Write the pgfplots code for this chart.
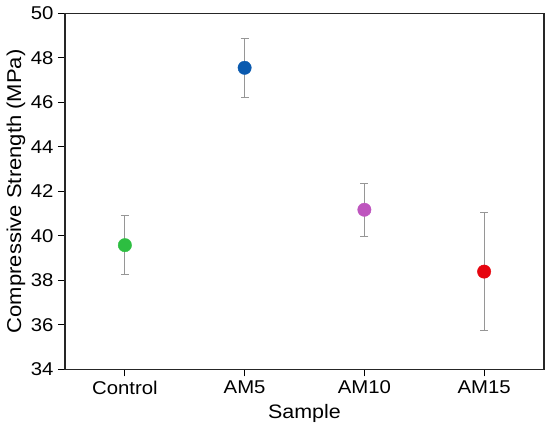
\documentclass[border=0pt]{standalone}
\usepackage{pgfplots}
\pgfplotsset{compat=1.18}
\usepackage{fontspec}
\setmainfont{Liberation Sans}[FakeStretch=1.1]
\definecolor{cgreen}{RGB}{45,190,65}
\definecolor{cblue}{RGB}{10,90,175}
\definecolor{cmag}{RGB}{190,85,190}
\definecolor{cred}{RGB}{230,5,15}
\definecolor{errgray}{RGB}{150,150,150}
\begin{document}
\begin{tikzpicture}
\useasboundingbox (-65pt,-58pt) rectangle (485pt,369.3pt);
\begin{axis}[
  scale only axis,
  width=479pt, height=356pt,
  xmin=-0.5, xmax=3.5,
  ymin=34, ymax=50,
  xtick={0,1,2,3},
  xticklabels={Control,AM5,AM10,AM15},
  ytick={34,36,...,50},
  tick align=outside,
  tick pos=left,
  major tick length=7pt,
  every tick/.style={black, line width=0.9pt},
  axis line style={line width=1.1pt, black!85},
  tick label style={font=\fontsize{18.5}{21}\selectfont},
  /pgf/number format/assume math mode=true,
  xlabel={Sample},
  ylabel={Compressive Strength (MPa)},
  xlabel style={font=\fontsize{19.5}{22}\selectfont, at={(axis description cs:0.5,-0.124)}, anchor=center},
  ylabel style={font=\fontsize{20}{22}\selectfont, at={(axis description cs:-0.1023,0.5)}, anchor=center},
  yticklabel style={xshift=-1pt},
  xticklabel style={yshift=-1pt},
  clip=false,
]
\addplot[cgreen, only marks, mark=*, mark size=6.7pt,
  error bars/.cd, y dir=both, y explicit,
  error bar style={errgray, line width=0.8pt},
  error mark options={errgray, rotate=90, mark size=4pt, line width=0.8pt}]
  coordinates {(0,39.58) +- (0,1.32)};
\addplot[cblue, only marks, mark=*, mark size=6.7pt,
  error bars/.cd, y dir=both, y explicit,
  error bar style={errgray, line width=0.8pt},
  error mark options={errgray, rotate=90, mark size=4pt, line width=0.8pt}]
  coordinates {(1,47.55) +- (0,1.34)};
\addplot[cmag, only marks, mark=*, mark size=6.7pt,
  error bars/.cd, y dir=both, y explicit,
  error bar style={errgray, line width=0.8pt},
  error mark options={errgray, rotate=90, mark size=4pt, line width=0.8pt}]
  coordinates {(2,41.17) +- (0,1.2)};
\addplot[cred, only marks, mark=*, mark size=6.7pt,
  error bars/.cd, y dir=both, y explicit,
  error bar style={errgray, line width=0.8pt},
  error mark options={errgray, rotate=90, mark size=4pt, line width=0.8pt}]
  coordinates {(3,38.39) +- (0,2.66)};
\end{axis}
\end{tikzpicture}
\end{document}
